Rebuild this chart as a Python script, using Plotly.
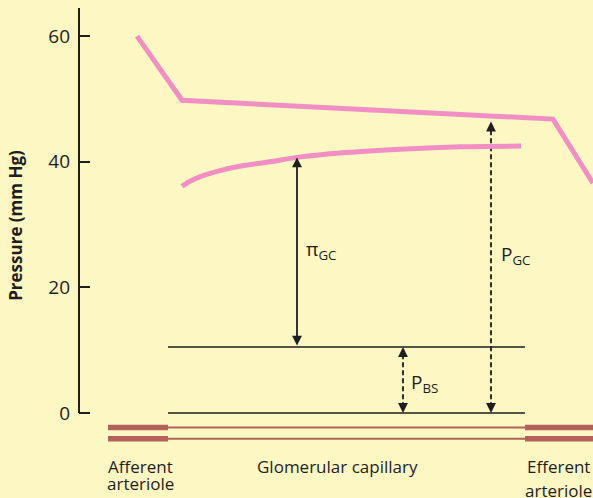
import plotly.graph_objects as go

# ---- data (pressures in mm Hg, positions along the nephron in arbitrary units) ----
hydro_x = [137, 182, 553, 593]
hydro_p = [60.0, 49.8, 46.8, 36.6]

onco_x = [182, 190, 203, 220, 237, 270, 297, 340, 400, 460, 521]
onco_p = [36.1, 36.9, 37.8, 38.6, 39.2, 40.0, 40.7, 41.4, 42.0, 42.4, 42.5]

P_BS = 10.5
cap_x = [168, 525]          # glomerular capillary extent
aff_x = [108, 168]          # afferent arteriole
eff_x = [525, 593]          # efferent arteriole
vessel_walls = [-2.3, -4.1]

pi_x, pi_top = 297, 40.7
pgc_x, pgc_top = 491, 46.4
pbs_x = 403

yticks = [0, 20, 40, 60]
y_axis_top = 64.5
x_range = [79, 593]
y_range = [-13.54, 65.76]

region_label_x = [140, 337, 558]

BG = "#fdf7c4"
PINK = "#f18fc4"
BROWN = "#b3615a"
INK = "#1e1e1e"
FONT = "Open Sans"

fig = go.Figure()

# vessel walls
for wy in vessel_walls:
    fig.add_trace(go.Scatter(x=aff_x, y=[wy, wy], mode="lines",
                             line=dict(color=BROWN, width=5.5), hoverinfo="skip"))
    fig.add_trace(go.Scatter(x=cap_x, y=[wy, wy], mode="lines",
                             line=dict(color=BROWN, width=2), hoverinfo="skip"))
    fig.add_trace(go.Scatter(x=eff_x, y=[wy, wy], mode="lines",
                             line=dict(color=BROWN, width=5.5), hoverinfo="skip"))

# Bowman's space pressure reference lines
fig.add_trace(go.Scatter(x=cap_x, y=[0, 0], mode="lines",
                         line=dict(color=INK, width=1.6), hoverinfo="skip"))
fig.add_trace(go.Scatter(x=cap_x, y=[P_BS, P_BS], mode="lines",
                         line=dict(color=INK, width=1.6), hoverinfo="skip"))

# dashed arrow shafts
fig.add_trace(go.Scatter(x=[pgc_x, pgc_x], y=[0.9, pgc_top - 0.9], mode="lines",
                         line=dict(color=INK, width=1.8, dash="5px,3px"), hoverinfo="skip"))
fig.add_trace(go.Scatter(x=[pbs_x, pbs_x], y=[0.9, P_BS - 0.9], mode="lines",
                         line=dict(color=INK, width=1.8, dash="5px,3px"), hoverinfo="skip"))

# pressure curves
fig.add_trace(go.Scatter(x=onco_x, y=onco_p, mode="lines", line_shape="spline",
                         line=dict(color=PINK, width=5, smoothing=0.8), hoverinfo="skip"))
fig.add_trace(go.Scatter(x=hydro_x, y=hydro_p, mode="lines",
                         line=dict(color=PINK, width=5), hoverinfo="skip"))

ann = []
# solid double arrow for pi_GC
ann.append(dict(x=pi_x, y=pi_top, ax=pi_x, ay=P_BS, xref="x", yref="y", axref="x", ayref="y",
                showarrow=True, arrowhead=2, arrowside="end+start", arrowwidth=1.8,
                arrowsize=1.1, arrowcolor=INK, text=""))
# heads for dashed arrows
for (hx, hy, off) in [(pgc_x, pgc_top, 9), (pgc_x, 0, -9), (pbs_x, P_BS, 9), (pbs_x, 0, -9)]:
    ann.append(dict(x=hx, y=hy, ax=0, ay=off, xref="x", yref="y",
                    showarrow=True, arrowhead=2, arrowwidth=1.8, arrowsize=1.1,
                    arrowcolor=INK, text=""))

# labels
sym_font = dict(size=19, color=INK, family=FONT)
ann.append(dict(x=304, y=26.0, xref="x", yref="y", xanchor="left", yanchor="middle",
                text="π<sub>GC</sub>", showarrow=False, font=sym_font))
ann.append(dict(x=499, y=25.2, xref="x", yref="y", xanchor="left", yanchor="middle",
                text="P<sub>GC</sub>", showarrow=False, font=sym_font))
ann.append(dict(x=409, y=4.8, xref="x", yref="y", xanchor="left", yanchor="middle",
                text="P<sub>BS</sub>", showarrow=False, font=sym_font))

# region labels
lab_font = dict(size=17, color=INK, family=FONT)
ann.append(dict(x=region_label_x[0], y=-8.6, xref="x", yref="y", xanchor="center", yanchor="middle",
                text="Afferent", showarrow=False, font=lab_font))
ann.append(dict(x=region_label_x[0], y=-11.3, xref="x", yref="y", xanchor="center", yanchor="middle",
                text="arteriole", showarrow=False, font=lab_font))
ann.append(dict(x=region_label_x[1], y=-8.6, xref="x", yref="y", xanchor="center", yanchor="middle",
                text="Glomerular capillary", showarrow=False, font=lab_font))
ann.append(dict(x=region_label_x[2], y=-8.6, xref="x", yref="y", xanchor="center", yanchor="middle",
                text="Efferent", showarrow=False, font=lab_font))
ann.append(dict(x=region_label_x[2], y=-12.4, xref="x", yref="y", xanchor="center", yanchor="middle",
                text="arteriole", showarrow=False, font=lab_font))

# y-axis title
ann.append(dict(x=-0.125, y=0.548, xref="paper", yref="paper",
                xanchor="center", yanchor="middle", textangle=-90,
                text="<b>Pressure (mm Hg)</b>", showarrow=False,
                font=dict(size=17, color=INK, family=FONT)))

fig.update_layout(
    width=593, height=498,
    margin=dict(l=79, r=0, t=0, b=0),
    paper_bgcolor=BG, plot_bgcolor=BG,
    showlegend=False,
    annotations=ann,
    shapes=[dict(type="line", xref="paper", yref="y", x0=0, x1=0, y0=0, y1=y_axis_top,
                 line=dict(color=INK, width=2))],
    xaxis=dict(range=x_range, visible=False, fixedrange=True),
    yaxis=dict(range=y_range, tickvals=yticks, ticktext=[str(t) for t in yticks],
               ticks="inside", ticklen=11, tickwidth=2, tickcolor=INK,
               showline=False, showgrid=False, zeroline=False,
               tickfont=dict(size=19, color=INK, family=FONT), ticklabelstandoff=8),
)

fig.write_html("out.html", config={"displayModeBar": False},
               post_script="document.body.style.margin='0px';document.body.style.background='" + BG + "';")
